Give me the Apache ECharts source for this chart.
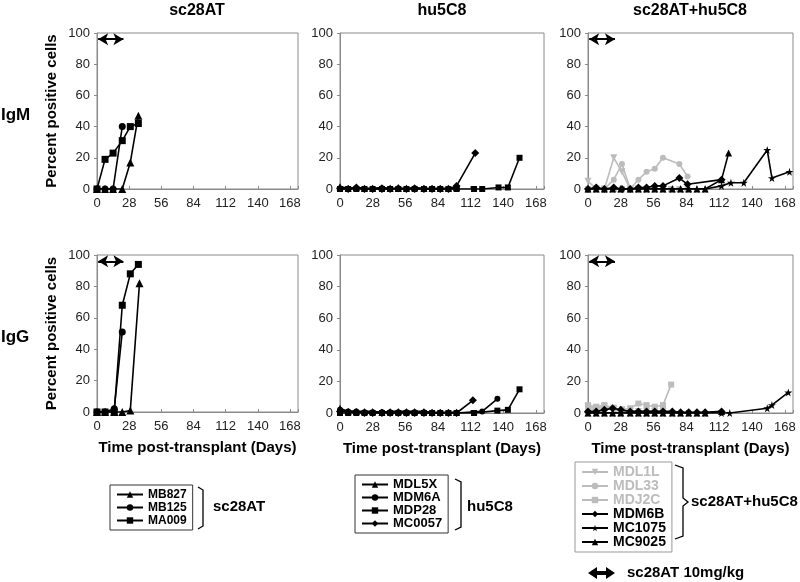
<!DOCTYPE html>
<html>
<head>
<meta charset="utf-8">
<script src="https://cdn.jsdelivr.net/npm/echarts@6/dist/echarts.min.js"></script>
<style>
  html, body { margin: 0; padding: 0; background: #fff; }
  #main { width: 800px; height: 582px; }
</style>
</head>
<body>
<div id="main"></div>
<script>
// --- data (days post-transplant, percent positive cells) ---
var xTicks = [0, 28, 56, 84, 112, 140, 168];
var dosing = [1, 23];          // sc28AT 10mg/kg window (days)
var wk = [0, 7, 14, 21, 28, 36, 43, 50, 57, 64, 72, 79, 86, 93, 100];

// sc28AT group
var MB827_days_m = [0, 7, 14, 22, 29, 36];
var MB827_m = [0, 0, 0, 0, 17, 47];
var MB125_days_m = [0, 7, 14, 22];
var MB125_m = [0, 0, 0, 40];
var MA009_days_m = [0, 7, 14, 22, 29, 36];
var MA009_m = [0, 19, 23, 31, 40, 42];

var MB827_days_g = [0, 7, 15, 22, 29, 37];
var MB827_g = [0, 0, 0, 0, 1, 82];
var MB125_days_g = [0, 7, 15, 22];
var MB125_g = [0, 0, 2, 51];
var MA009_days_g = [0, 7, 15, 22, 29, 36];
var MA009_g = [0, 0, 0, 68, 88, 94];

// hu5C8 group
var MDL5X_days_m = wk;
var MDL5X_m = [1.5, 0.5, 1, 0.5, 0.5, 1, 0.5, 0.5, 0.5, 1, 0.5, 0.5, 0.5, 0.5, 1];
var MDM6A_days_m = wk;
var MDM6A_m = [0, 0, 0.5, 0, 0, 0.5, 0, 0, 0, 0.5, 0, 0, 0, 0, 0.5];
var MDP28_days_m = wk.concat([115, 122, 136, 144, 154]);
var MDP28_m = [0, 0, 0, 0, 0, 0, 0, 0, 0, 0, 0, 0, 0, 0, 0, 0, 0, 1, 1, 20];
var MC0057_days_m = wk.concat([116]);
var MC0057_m = [0.5, 0, 1, 0, 0, 0, 0, 0.5, 0, 0, 0, 0, 0, 0, 2, 23];

var MDL5X_days_g = wk;
var MDL5X_g = [3, 1, 1, 1, 1, 0.5, 1, 1, 1, 1, 1, 0.5, 0.5, 0.5, 0.5];
var MDM6A_days_g = wk.concat([122, 135]);
var MDM6A_g = [2, 1, 1, 0.5, 0.5, 0.5, 0.5, 0.5, 0.5, 0.5, 0.5, 0, 0, 0, 0, 1, 9];
var MDP28_days_g = wk.concat([115, 135, 144, 154]);
var MDP28_g = [0, 0, 0, 0, 0, 0, 0, 0, 0, 0, 0, 0, 0, 0, 0, 0, 1.5, 2, 15];
var MC0057_days_g = wk.concat([114]);
var MC0057_g = [1, 0.5, 0.5, 0, 0, 0, 0, 0, 0, 0, 0, 0, 0, 0, 0, 8];

// sc28AT+hu5C8 group
var MDL1L_days_m = [0, 7, 14, 22, 29, 36, 43];
var MDL1L_m = [5, 0, 0, 20, 11, 0, 0];
var MDL33_days_m = [0, 7, 14, 22, 29, 36, 43, 50, 57, 64, 78, 85];
var MDL33_m = [0, 1, 0, 6, 16, 0, 6, 11, 13, 20, 16, 8];
var MDJ2C_days_m = [0, 7, 14, 22, 29, 36, 43, 50, 57, 64, 71, 78, 85];
var MDJ2C_m = [0, 0, 0, 0, 0, 0, 0, 0, 0, 0, 0, 0, 0];
var MDM6B_days_m = [0, 7, 14, 22, 29, 36, 43, 50, 57, 64, 78, 85, 114];
var MDM6B_m = [0, 1, 0, 1, 0, 0, 1, 1, 2, 2, 7, 3, 6];
var MC1075_days_m = wk.concat([114, 122, 133, 153, 157, 172]);
var MC1075_m = [0, 0, 0, 0, 0, 0, 0, 0, 0, 0, 0, 0, 0, 0, 0, 2, 4, 4, 25, 7, 11];
var MC9025_days_m = wk.concat([114, 120]);
var MC9025_m = [0, 0, 0, 0, 0, 0, 0, 0, 0, 0, 0, 0, 0, 0, 0, 6, 23];

var MDL1L_days_g = [0, 7, 14, 22, 29, 36, 43, 50, 57, 64];
var MDL1L_g = [4, 3, 4, 3, 2, 1, 1, 1, 1, 1];
var MDL33_days_g = [0, 7, 14, 22, 29, 36, 43, 50, 57, 64];
var MDL33_g = [3, 2, 3, 2, 1, 1, 1, 1, 1, 1];
var MDJ2C_days_g = [0, 7, 14, 22, 29, 36, 43, 50, 57, 64, 71];
var MDJ2C_g = [5, 4, 5, 3, 2, 3, 6, 5, 4, 5, 18];
var MDM6B_days_g = wk.concat([114]);
var MDM6B_g = [1, 1, 2, 3, 2, 1, 1, 1, 1, 1, 1, 0.5, 0.5, 0.5, 0.5, 1];
var MC1075_days_g = wk.concat([114, 121, 153, 157, 171]);
var MC1075_g = [0, 0, 0, 0, 0, 0, 0, 0, 0, 0, 0, 0, 0, 0, 0, 0, 0, 3, 5, 13];
var MC9025_days_g = wk.concat([114]);
var MC9025_g = [0, 0, 0, 0, 0, 0, 0, 0, 0, 0, 0, 0, 0, 0, 0, 1];

// --- styles ---
var FONT = '"Liberation Sans", Arial, sans-serif';
var BLACK = '#000';
var GREY = '#bcbcbc';
var STAR = 'path://M50,0L61,35L98,35L68,57L79,91L50,70L21,91L32,57L2,35L39,35Z';
var TRIDOWN = 'path://M0,0L10,0L5,10Z';

var chart = echarts.init(document.getElementById('main'), null, { renderer: 'canvas' });

var grids = [
  { left: 97, top: 33, width: 201, height: 156 },
  { left: 340, top: 33, width: 204, height: 156 },
  { left: 588, top: 33, width: 205, height: 156 },
  { left: 97, top: 255, width: 201, height: 157 },
  { left: 340, top: 255, width: 204, height: 158 },
  { left: 588, top: 255, width: 205, height: 158 }
];

var xAxes = [], yAxes = [];
grids.forEach(function (g, i) {
  g.show = true;
  g.borderColor = '#8a8a8a';
  g.borderWidth = 1;
  g.backgroundColor = '#fff';
  xAxes.push({
    type: 'value', gridIndex: i, min: 0, max: 175, interval: 28,
    axisLine: { lineStyle: { color: '#8a8a8a' } },
    axisTick: { inside: true, length: 3, lineStyle: { color: '#8a8a8a' } },
    splitLine: { show: false },
    axisLabel: {
      color: '#222', fontSize: 13, fontFamily: FONT, margin: 8,
      formatter: function (v) { return xTicks.indexOf(v) >= 0 ? String(v) : ''; }
    },
    name: i >= 3 ? 'Time post-transplant (Days)' : '',
    nameLocation: 'middle', nameGap: 28,
    nameTextStyle: { color: '#000', fontSize: 15, fontWeight: 'bold', fontFamily: FONT }
  });
  yAxes.push({
    type: 'value', gridIndex: i, min: 0, max: 100, interval: 20,
    axisLine: { show: true, lineStyle: { color: '#8a8a8a' } },
    axisTick: { show: true, length: 3, lineStyle: { color: '#8a8a8a' } },
    splitLine: { show: false },
    axisLabel: { color: '#222', fontSize: 13, fontFamily: FONT, margin: 7 },
    name: (i === 0 || i === 3) ? 'Percent positive cells' : '',
    nameLocation: 'middle', nameGap: 38,
    nameTextStyle: { color: '#000', fontSize: 15, fontWeight: 'bold', fontFamily: FONT }
  });
});

function mk(name, days, vals, gi, color, symbol, size) {
  return {
    type: 'line', name: name, xAxisIndex: gi, yAxisIndex: gi,
    data: days.map(function (d, k) { return [d, vals[k]]; }),
    symbol: symbol, symbolSize: size, showAllSymbol: true,
    lineStyle: { color: color, width: 1.6 },
    itemStyle: { color: color, borderWidth: 0 },
    z: color === GREY ? 2 : 3,
    animation: false
  };
}

function arrow(gi) {
  return {
    type: 'line', name: '_arrow' + gi, xAxisIndex: gi, yAxisIndex: gi, data: [],
    markLine: {
      silent: true, symbol: ['arrow', 'arrow'], symbolSize: [9, 10],
      label: { show: false },
      lineStyle: { color: BLACK, width: 2, type: 'solid' },
      data: [[{ coord: [dosing[0], 96] }, { coord: [dosing[1], 96] }]]
    },
    animation: false
  };
}

var series = [
  // sc28AT IgM / IgG
  mk('MB827', MB827_days_m, MB827_m, 0, BLACK, 'triangle', 8),
  mk('MB125', MB125_days_m, MB125_m, 0, BLACK, 'circle', 7),
  mk('MA009', MA009_days_m, MA009_m, 0, BLACK, 'rect', 7),
  mk('MB827', MB827_days_g, MB827_g, 3, BLACK, 'triangle', 8),
  mk('MB125', MB125_days_g, MB125_g, 3, BLACK, 'circle', 7),
  mk('MA009', MA009_days_g, MA009_g, 3, BLACK, 'rect', 7),
  // hu5C8
  mk('MDL5X', MDL5X_days_m, MDL5X_m, 1, BLACK, 'triangle', 7),
  mk('MDM6A', MDM6A_days_m, MDM6A_m, 1, BLACK, 'circle', 6),
  mk('MDP28', MDP28_days_m, MDP28_m, 1, BLACK, 'rect', 6),
  mk('MC0057', MC0057_days_m, MC0057_m, 1, BLACK, 'diamond', 8),
  mk('MDL5X', MDL5X_days_g, MDL5X_g, 4, BLACK, 'triangle', 7),
  mk('MDM6A', MDM6A_days_g, MDM6A_g, 4, BLACK, 'circle', 6),
  mk('MDP28', MDP28_days_g, MDP28_g, 4, BLACK, 'rect', 6),
  mk('MC0057', MC0057_days_g, MC0057_g, 4, BLACK, 'diamond', 8),
  // sc28AT+hu5C8
  mk('MDL1L', MDL1L_days_m, MDL1L_m, 2, GREY, TRIDOWN, 7),
  mk('MDL33', MDL33_days_m, MDL33_m, 2, GREY, 'circle', 6),
  mk('MDJ2C', MDJ2C_days_m, MDJ2C_m, 2, GREY, 'rect', 6),
  mk('MDM6B', MDM6B_days_m, MDM6B_m, 2, BLACK, 'diamond', 8),
  mk('MC1075', MC1075_days_m, MC1075_m, 2, BLACK, STAR, 8),
  mk('MC9025', MC9025_days_m, MC9025_m, 2, BLACK, 'triangle', 7),
  mk('MDL1L', MDL1L_days_g, MDL1L_g, 5, GREY, TRIDOWN, 7),
  mk('MDL33', MDL33_days_g, MDL33_g, 5, GREY, 'circle', 6),
  mk('MDJ2C', MDJ2C_days_g, MDJ2C_g, 5, GREY, 'rect', 6),
  mk('MDM6B', MDM6B_days_g, MDM6B_g, 5, BLACK, 'diamond', 8),
  mk('MC1075', MC1075_days_g, MC1075_g, 5, BLACK, STAR, 8),
  mk('MC9025', MC9025_days_g, MC9025_g, 5, BLACK, 'triangle', 7),
  // dosing arrows
  arrow(0), arrow(2), arrow(3), arrow(5)
];

function legendBox(left, top, names, greyNames, fontSize, lh, w, border) {
  return {
    orient: 'vertical', left: left, top: top, width: w,
    selectedMode: false,
    borderColor: border, borderWidth: 1, padding: [3, 6, 3, 6],
    itemGap: 0, itemWidth: 26, itemHeight: 8,
    textStyle: { fontSize: fontSize, fontWeight: 'bold', fontFamily: FONT, lineHeight: lh, color: '#000' },
    data: names.map(function (n) {
      return greyNames.indexOf(n) >= 0 ? { name: n, textStyle: { color: GREY } } : { name: n };
    })
  };
}

var legends = [
  legendBox(110, 485, ['MB827', 'MB125', 'MA009'], [], 12, 13, 70, '#333'),
  legendBox(355, 475, ['MDL5X', 'MDM6A', 'MDP28', 'MC0057'], [], 13, 12, 97, '#333'),
  legendBox(575, 462, ['MDL1L', 'MDL33', 'MDJ2C', 'MDM6B', 'MC1075', 'MC9025'], ['MDL1L', 'MDL33', 'MDJ2C'], 14, 12, 98, '#999')
];

function txt(x, y, s, size, align) {
  return {
    type: 'text', x: x, y: y,
    style: { text: s, font: 'bold ' + size + 'px ' + FONT, fill: '#000', align: align || 'left', verticalAlign: 'middle' }
  };
}
function bracket(pts) {
  return { type: 'polyline', shape: { points: pts }, style: { stroke: '#000', lineWidth: 1.3, fill: null } };
}

var graphics = [
  txt(197, 11, 'sc28AT', 16, 'center'),
  txt(442, 11, 'hu5C8', 16, 'center'),
  txt(690, 11, 'sc28AT+hu5C8', 16, 'center'),
  txt(1, 115, 'IgM', 17),
  txt(1, 337, 'IgG', 17),
  bracket([[198, 487], [203, 490], [203, 526], [198, 529]]),
  txt(213, 507, 'sc28AT', 15),
  bracket([[455, 479], [461, 482], [461, 527], [455, 530]]),
  txt(467, 507, 'hu5C8', 15),
  bracket([[675, 465], [683, 468], [683, 498], [688, 502], [683, 506], [683, 536], [675, 539]]),
  txt(691, 502, 'sc28AT+hu5C8', 15),
  {
    type: 'polygon',
    shape: { points: [[588, 573], [597, 567], [597, 571], [606, 571], [606, 567], [615, 573], [606, 579], [606, 575], [597, 575], [597, 579]] },
    style: { fill: '#000' }
  },
  txt(627, 573, 'sc28AT 10mg/kg', 15)
];

chart.setOption({
  backgroundColor: '#fff',
  animation: false,
  grid: grids,
  xAxis: xAxes,
  yAxis: yAxes,
  legend: legends,
  series: series,
  graphic: graphics
});
</script>
</body>
</html>
